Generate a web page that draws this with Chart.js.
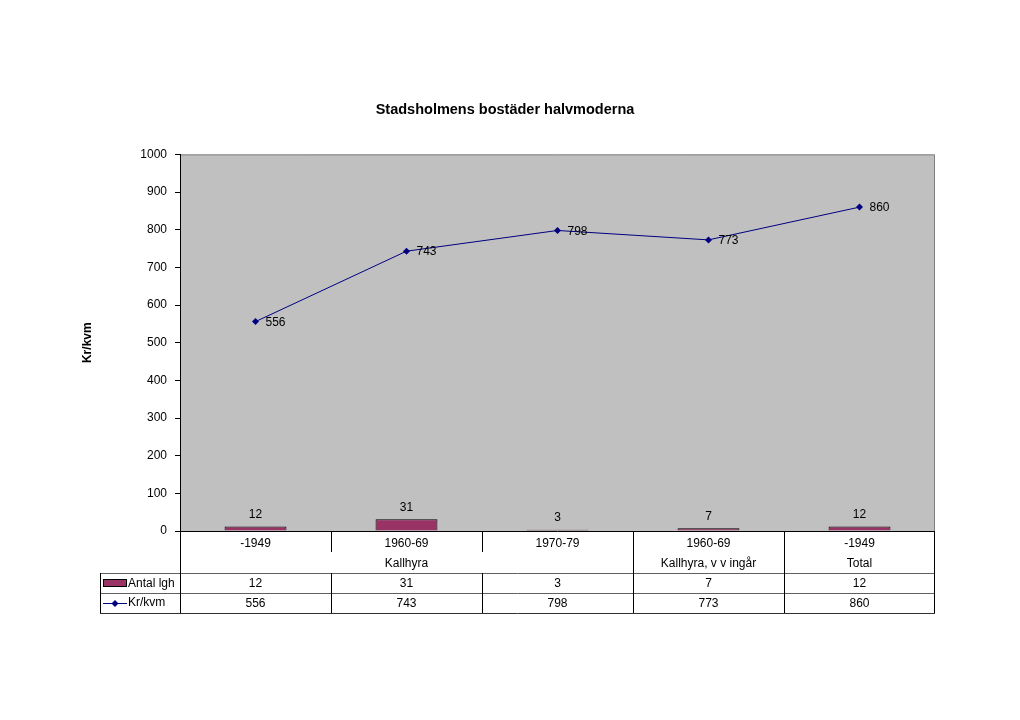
<!DOCTYPE html>
<html>
<head>
<meta charset="utf-8">
<script src="https://cdn.jsdelivr.net/npm/chart.js@4/dist/chart.umd.min.js"></script>
<style>
  body { margin: 0; background: #fff; }
</style>
</head>
<body>
<canvas id="bostader" width="1020" height="720"></canvas>
<script>
// data
var perioder = ['-1949', '1960-69', '1970-79', '1960-69', '-1949'];
var grupper = ['Kallhyra', 'Kallhyra', 'Kallhyra', 'Kallhyra, v v ingår', 'Total'];
var antalLgh = [12, 31, 3, 7, 12];
var krKvm = [556, 743, 798, 773, 860];
var yMin = 0, yMax = 1000, yStep = 100;

var FONT = 'Liberation Sans, Arial, sans-serif';

// grå bakgrund i diagramytan
var plotBg = {
  id: 'plotBg',
  beforeDraw: function(chart) {
    var a = chart.chartArea, c = chart.ctx;
    c.save();
    c.fillStyle = '#c0c0c0';
    c.fillRect(a.left, a.top, a.right - a.left, a.bottom - a.top);
    c.strokeStyle = '#808080';
    c.lineWidth = 1;
    c.beginPath();
    c.moveTo(a.left, a.top + 0.5);
    c.lineTo(a.right - 0.5, a.top + 0.5);
    c.lineTo(a.right - 0.5, a.bottom);
    c.stroke();
    c.restore();
  }
};

// värden vid staplar och punkter
var valueLabels = {
  id: 'valueLabels',
  afterDatasetsDraw: function(chart) {
    var c = chart.ctx;
    c.save();
    c.font = '12px ' + FONT;
    c.fillStyle = '#000';
    c.textBaseline = 'middle';
    var lineMeta = chart.getDatasetMeta(0);
    c.textAlign = 'left';
    lineMeta.data.forEach(function(p, i) {
      c.fillText(krKvm[i], p.x + 10, p.y + 1);
    });
    var barMeta = chart.getDatasetMeta(1);
    c.textAlign = 'center';
    barMeta.data.forEach(function(b, i) {
      c.fillText(antalLgh[i], b.x, b.y - 12);
    });
    c.restore();
  }
};

// datatabell under diagrammet
var dataTable = {
  id: 'dataTable',
  afterDraw: function(chart) {
    var a = chart.chartArea, c = chart.ctx, xs = chart.scales.x;
    var n = perioder.length;
    var colW = (a.right - a.left) / n;
    var top = a.bottom;
    var r1 = top + 21, r2 = top + 42, r3 = top + 62, r4 = top + 82;
    var legLeft = 100;
    c.save();
    c.lineWidth = 1;
    c.strokeStyle = '#000';
    function line(x1, y1, x2, y2, col) {
      c.strokeStyle = col || '#000';
      c.beginPath();
      c.moveTo(x1, y1);
      c.lineTo(x2, y2);
      c.stroke();
    }
    // vågräta linjer
    line(a.left, top + 0.5, a.right, top + 0.5);
    line(legLeft, r2 + 0.5, a.right, r2 + 0.5, '#606060');
    line(legLeft, r3 + 0.5, a.right, r3 + 0.5, '#606060');
    line(legLeft, r4 + 0.5, a.right, r4 + 0.5, '#303030');
    // lodräta linjer
    line(Math.round(a.left) + 0.5, top, Math.round(a.left) + 0.5, r4);
    line(Math.round(a.right) - 0.5, top, Math.round(a.right) - 0.5, r4);
    line(legLeft + 0.5, r2, legLeft + 0.5, r4);
    for (var i = 1; i < n; i++) {
      var x = Math.round(a.left + colW * i) + 0.5;
      var y2 = grupper[i] === grupper[i - 1] ? r1 : r4;
      line(x, top, x, y2);
      if (y2 === r1) line(x, r2, x, r4);
    }
    c.font = '12px ' + FONT;
    c.fillStyle = '#000';
    c.textAlign = 'center';
    c.textBaseline = 'middle';
    for (var j = 0; j < n; j++) {
      var cx = xs.getPixelForValue(j);
      c.fillText(perioder[j], cx, (top + r1) / 2 + 2);
      c.fillText(antalLgh[j], cx, (r2 + r3) / 2 + 1);
      c.fillText(krKvm[j], cx, (r3 + r4) / 2 + 1);
    }
    // grupper
    var start = 0;
    for (var k = 1; k <= n; k++) {
      if (k === n || grupper[k] !== grupper[start]) {
        var gx = (xs.getPixelForValue(start) + xs.getPixelForValue(k - 1)) / 2;
        c.fillText(grupper[start], gx, (r1 + r2) / 2 + 1);
        start = k;
      }
    }
    // teckenförklaring
    var ds = chart.data.datasets;
    c.textAlign = 'left';
    c.fillStyle = ds[1].backgroundColor;
    c.fillRect(103.5, r2 + 6.5, 23, 7);
    c.strokeStyle = '#000';
    c.strokeRect(103.5, r2 + 6.5, 23, 7);
    c.fillStyle = '#000';
    c.fillText(ds[1].label, 128, (r2 + r3) / 2 + 1);
    var ly = Math.round((r3 + r4) / 2) + 0.5;
    line(103, ly, 127, ly, ds[0].borderColor);
    c.fillStyle = ds[0].borderColor;
    c.beginPath();
    c.moveTo(115, ly - 3.5);
    c.lineTo(118.5, ly);
    c.lineTo(115, ly + 3.5);
    c.lineTo(111.5, ly);
    c.closePath();
    c.fill();
    c.fillStyle = '#000';
    c.fillText(ds[0].label, 128, (r3 + r4) / 2);
    c.restore();
  }
};

var ctx = document.getElementById('bostader');
var bostadChart = new Chart(ctx, {
  type: 'bar',
  data: {
    labels: perioder,
    datasets: [{
      type: 'line',
      label: 'Kr/kvm',
      data: krKvm,
      borderColor: '#000080',
      backgroundColor: '#000080',
      borderWidth: 1,
      pointStyle: 'rectRot',
      pointRadius: 3.5,
      pointBorderWidth: 0,
      tension: 0
    }, {
      type: 'bar',
      label: 'Antal lgh',
      data: antalLgh,
      backgroundColor: '#993366',
      borderColor: '#000',
      borderWidth: 1,
      barPercentage: 0.41,
      categoryPercentage: 1
    }]
  },
  options: {
    responsive: false,
    animation: false,
    layout: { padding: { left: 75, right: 85, top: 0, bottom: 189 } },
    plugins: {
      legend: { display: false },
      tooltip: { enabled: false },
      title: {
        display: true,
        text: 'Stadsholmens bostäder halvmoderna',
        color: '#000',
        font: { family: FONT, size: 14.5, weight: 'bold' },
        padding: { top: 101, bottom: 36 }
      }
    },
    scales: {
      x: {
        display: false
      },
      y: {
        min: yMin,
        max: yMax,
        afterFit: function(scale) { scale.width = 105; },
        border: { display: true, color: '#000', width: 1 },
        grid: { drawOnChartArea: false, tickLength: 5, color: '#000' },
        ticks: {
          stepSize: yStep,
          padding: 8,
          color: '#000',
          font: { family: FONT, size: 12 },
          callback: function(v) { return String(v); }
        },
        title: {
          display: true,
          text: 'Kr/kvm',
          color: '#000',
          font: { family: FONT, size: 12, weight: 'bold' },
          padding: { top: 5, bottom: 0 }
        }
      }
    }
  },
  plugins: [plotBg, valueLabels, dataTable]
});
</script>
</body>
</html>
